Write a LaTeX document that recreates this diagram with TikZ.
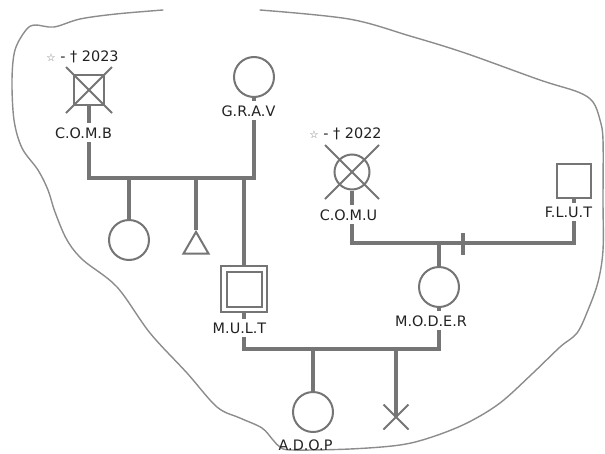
\documentclass[tikz,border=0pt]{standalone}
\usepackage{fontspec}
\setmainfont{DejaVu Sans}
\usetikzlibrary{shapes.geometric}
\definecolor{pedgray}{HTML}{757575}
\definecolor{bordergray}{HTML}{8C8C8C}
\definecolor{txtgray}{HTML}{222222}
\begin{document}
\begin{tikzpicture}[x=1pt,y=-1pt,
  kin/.style={draw=pedgray, line width=4pt},
  shapeline/.style={draw=pedgray, line width=2pt, fill=white},
  female/.style={circle, shapeline, minimum size=40, inner sep=0},
  male/.style={rectangle, shapeline, inner sep=0},
  crossline/.style={draw=pedgray, line width=2pt},
  lbl/.style={font=\fontsize{14.4}{15}\selectfont, text=txtgray, fill=white, inner xsep=1pt, inner ysep=4pt, anchor=base},
  border/.style={draw=bordergray, line width=1.4pt, line join=round, line cap=round}
]
\useasboundingbox (0,0) rectangle (605,453);

% free-hand boundary
\draw[border] plot[smooth, tension=0.55] coordinates {
  (260,10) (349,19) (410,36) (465,53) (540,80) (578,92) (593,102) (600,120) (603,140)
  (603,200) (603,250) (598,282) (588,310) (577,333) (560,347) (533,373) (500,403)
  (467,423) (432,437) (400,445) (350,449) (292,450) (280,447) (273,440) (262,428)
  (240,418) (217,407) (187,373) (150,333) (117,287) (83,260) (67,240) (55,212)
  (48,190) (38,170) (22,148) (14,120) (12,80) (15,50) (26,30) (35,25) (54,27)
  (80,19) (116,14) (163,10)};

% individuals
\node[male, minimum size=30] (comb) at (89,90) {};
\node[female] (grav) at (254,77) {};
\node[female] (chf) at (129,240) {};
\node[regular polygon, regular polygon sides=3, shapeline, minimum size=29, inner sep=0] (chm) at (196,246.4) {};
\node[male, minimum size=46] (mult) at (244,289) {};
\node[male, minimum size=35] (multin) at (244,289) {};
\node[female, minimum size=35] (comu) at (352,172) {};
\node[male, minimum size=34] (flut) at (574,181) {};
\node[female] (moder) at (439,287) {};
\node[female] (adop) at (313,412) {};
\coordinate (loss) at (396,417);

% deceased crosses
\draw[crossline] ([shift={(-23,-23)}]comb.center) -- ([shift={(23,23)}]comb.center);
\draw[crossline] ([shift={(-23,23)}]comb.center) -- ([shift={(23,-23)}]comb.center);
\draw[crossline] ([shift={(-27,-27)}]comu.center) -- ([shift={(27,27)}]comu.center);
\draw[crossline] ([shift={(-27,27)}]comu.center) -- ([shift={(27,-27)}]comu.center);
\draw[crossline] ([shift={(-12.5,-12.5)}]loss) -- ([shift={(12.5,12.5)}]loss);
\draw[crossline] ([shift={(-12.5,12.5)}]loss) -- ([shift={(12.5,-12.5)}]loss);

% sibship of COMB + GRAV
\coordinate (sL) at (89,178);
\coordinate (sR) at (254,178);
\draw[kin] (comb) -- (sL) -- (sR) -- (grav);
\draw[kin] (chf) -- (chf |- sL);
\draw[kin] (chm.corner 1) -- (chm.corner 1 |- sL);
\draw[kin] (mult) -- (mult |- sL);

% couple COMU + FLUT
\coordinate (c1L) at (352,243);
\coordinate (c1R) at (574,243);
\draw[kin] (comu) -- (c1L) -- (c1R) -- (flut);
\draw[kin] (moder) -- (moder |- c1L);
\coordinate (sepT) at (463,233);
\coordinate (sepB) at (463,255);
\draw[kin] (sepT) -- (sepB);

% couple MULT + MODER
\coordinate (c2L) at (244,349);
\coordinate (c2R) at (439,349);
\draw[kin] (mult) -- (c2L) -- (c2R) -- (moder);
\draw[kin] (adop) -- (adop |- c2L);
\draw[kin] (loss) -- (loss |- c2L);

% labels
\node[lbl] (combd) at (82.5,61) {{\fontsize{10.5}{11}\selectfont\color{pedgray}☆} - † 2023};
\node[lbl] (combl) at (83.5,138) {C.O.M.B};
\node[lbl] (gravl) at (248.5,116) {G.R.A.V};
\node[lbl] (comud) at (345.5,138) {{\fontsize{10.5}{11}\selectfont\color{pedgray}☆} - † 2022};
\node[lbl] (comul) at (348.5,220) {C.O.M.U};
\node[lbl] (flutl) at (568.5,217) {F.L.U.T};
\node[lbl] (multl) at (239.5,333) {M.U.L.T};
\node[lbl] (moderl) at (431,326) {M.O.D.E.R};
\node[lbl, fill=none] (adopl) at (305.5,450.5) {A.D.O.P};
\end{tikzpicture}
\end{document}
